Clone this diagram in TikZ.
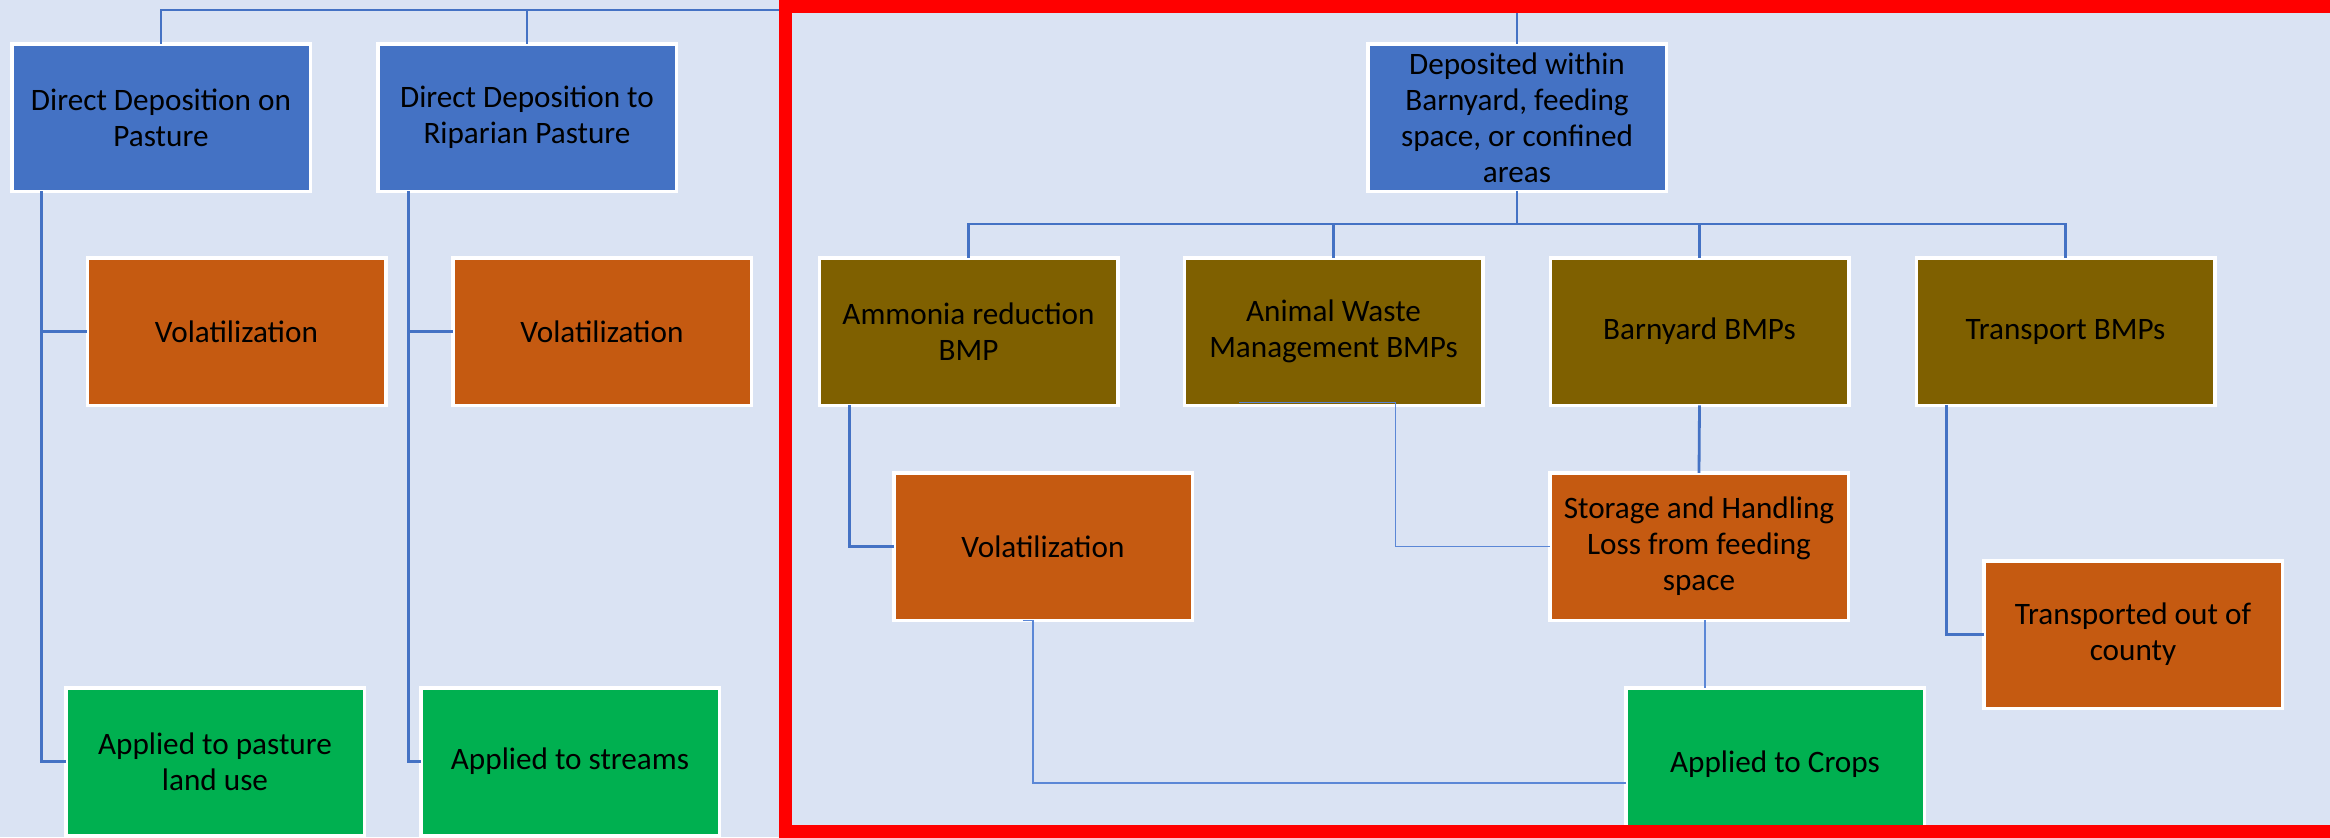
\documentclass[tikz,border=0pt]{standalone}
\usepackage{fontspec}
\setmainfont{Carlito}
\usetikzlibrary{calc}

\definecolor{pagebg}{HTML}{DAE3F3}
\definecolor{accblue}{HTML}{4472C4}
\definecolor{linkblue}{HTML}{4472C4}
\definecolor{thinblue}{HTML}{5B87D6}
\definecolor{olivefill}{HTML}{7F6000}
\definecolor{orangefill}{HTML}{C55A11}
\definecolor{greenfill}{HTML}{00B050}
\definecolor{frame}{HTML}{FF0000}

\tikzset{
  box/.style={draw=white, line width=1.75pt, minimum width=149.25pt,
    minimum height=73.75pt, inner sep=2pt, outer sep=0pt, align=center,
    text=black, font=\fontsize{15.6}{18}\selectfont},
  bluebox/.style={box, fill=accblue},
  olivebox/.style={box, fill=olivefill},
  orangebox/.style={box, fill=orangefill},
  greenbox/.style={box, fill=greenfill},
  link/.style={draw=linkblue, line width=1.4pt},
  thinlink/.style={draw=thinblue, line width=0.75pt},
}

\begin{document}
\begin{tikzpicture}[x=0.5pt, y=-0.5pt]
  \useasboundingbox (0,0) rectangle (2330,837);
  \clip (0,0) rectangle (2330,837);
  \fill[pagebg] (0,0) rectangle (2330,837);

  \coordinate (topbar) at (0,10);
  \coordinate (midbar) at (0,224);

  % top level
  \node[bluebox] (dpast)  at (161,117.5)  {Direct Deposition on\\Pasture};
  \node[bluebox] (dripar) at (527,117.5)  {Direct Deposition to\\Riparian Pasture};
  \node[bluebox] (dep)    at (1517,117.5) {Deposited within\\Barnyard, feeding\\space, or confined\\areas};

  % pasture branches
  \node[orangebox] (vol1) at (236.5,331.5) {Volatilization};
  \node[orangebox] (vol2) at (602,331.5)   {Volatilization};
  \node[greenbox]  (app1) at (215,761.5)   {Applied to pasture\\land use};
  \node[greenbox]  (app2) at (570,761.5)   {Applied to streams};

  % barnyard branches
  \node[olivebox] (amm)   at (968.5,331.5)  {Ammonia reduction\\BMP};
  \node[olivebox] (awm)   at (1333.5,331.5) {Animal Waste\\Management BMPs};
  \node[olivebox] (barn)  at (1699.5,331.5) {Barnyard BMPs};
  \node[olivebox] (trans) at (2065.5,331.5) {Transport BMPs};

  \node[orangebox] (vol3) at (1043,546.5) {Volatilization};
  \node[orangebox] (stor) at (1699,546.5) {Storage and Handling\\Loss from feeding\\space};
  \node[orangebox] (tout) at (2133,634.5) {Transported out of\\county};
  \node[greenbox, minimum height=95.25pt, text depth=21.5pt] (crops) at (1775,783) {Applied to Crops};

  % top bar feeding the three source boxes
  \draw[link] (dpast.north) -- (dpast.north |- topbar) -- (dep.north |- topbar) -- (dep.north);
  \draw[link] (dripar.north) -- (dripar.north |- topbar);

  % pasture trunks
  \draw[link] ([xshift=15pt]dpast.south west) |- (vol1.west);
  \draw[link] ([xshift=15pt]dpast.south west) |- (app1.west);
  \draw[link] ([xshift=15.5pt]dripar.south west) |- (vol2.west);
  \draw[link] ([xshift=15.5pt]dripar.south west) |- (app2.west);

  % barnyard bar
  \draw[link] (dep.south) -- (dep.south |- midbar);
  \draw[link] (amm.north) -- (amm.north |- midbar) -| (trans.north);
  \draw[link] (awm.north) -- (awm.north |- midbar);
  \draw[link] (barn.north) -- (barn.north |- midbar);

  % BMP outlets
  \draw[link] ([xshift=15pt]amm.south west) |- (vol3.west);
  \draw[link] (barn.south) -- (stor.north);
  \draw[link] ([xshift=15pt]trans.south west) |- (tout.west);

  % thin connectors
  \draw[thinlink] ([xshift=27.5pt,yshift=1.5pt]awm.south west)
    -- ([xshift=105.5pt,yshift=1.5pt]awm.south west) |- (stor.west);
  \draw[thinlink] ([xshift=3pt]stor.south) -- ([xshift=3pt]stor.south |- crops.north);
  \draw[thinlink] ([xshift=64.5pt]vol3.south west)
    -- ([xshift=69.5pt]vol3.south west) |- (crops.west);

  % red highlight frame around the barnyard part
  \draw[frame, line width=6.5pt] (785.5,6) rectangle (2400,831.5);
\end{tikzpicture}
\end{document}
